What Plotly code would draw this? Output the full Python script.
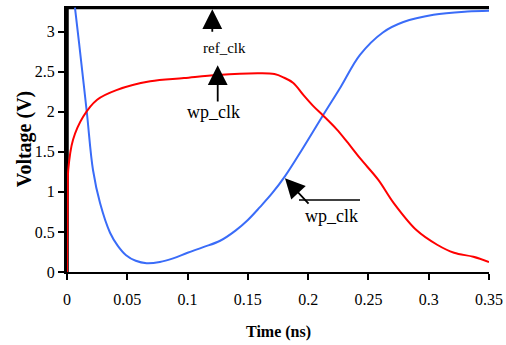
import plotly.graph_objects as go

# ---- data ----
t_blue = [0.0066, 0.010, 0.0164, 0.0216, 0.0274, 0.0357, 0.042, 0.049, 0.057, 0.066,
          0.077, 0.088, 0.100, 0.113, 0.127, 0.140, 0.150, 0.160, 0.170, 0.181,
          0.195, 0.2125, 0.227, 0.243, 0.262, 0.279, 0.304, 0.332, 0.350]
v_blue = [3.30, 2.86, 2.00, 1.27, 0.86, 0.49, 0.33, 0.21, 0.14, 0.11,
          0.125, 0.17, 0.24, 0.31, 0.39, 0.52, 0.65, 0.81, 0.98, 1.20,
          1.53, 1.96, 2.31, 2.71, 2.99, 3.12, 3.21, 3.25, 3.26]

t_red = [0.0, 0.0003, 0.0006, 0.001, 0.005, 0.0135, 0.025, 0.041, 0.069, 0.097,
         0.125, 0.160, 0.172, 0.1794, 0.1877, 0.196, 0.2043, 0.2126, 0.2237, 0.232,
         0.243, 0.2582, 0.271, 0.290, 0.307, 0.321, 0.337, 0.350]
v_red = [0.0, 0.5, 1.0, 1.27, 1.65, 1.94, 2.15, 2.27, 2.38, 2.42,
         2.46, 2.48, 2.47, 2.43, 2.36, 2.21, 2.07, 1.95, 1.78, 1.63,
         1.42, 1.15, 0.86, 0.52, 0.34, 0.24, 0.19, 0.125]

t_ref = [0.0, 0.0, 0.35]
v_ref = [0.0, 3.3, 3.3]

x_ticks = [0, 0.05, 0.1, 0.15, 0.2, 0.25, 0.3, 0.35]
x_labels = ["0", "0.05", "0.1", "0.15", "0.2", "0.25", "0.3", "0.35"]
y_ticks = [0, 0.5, 1, 1.5, 2, 2.5, 3]
y_labels = ["0", "0.5", "1", "1.5", "2", "2.5", "3"]

FONT = "Liberation Serif, Times New Roman, serif"

fig = go.Figure()
fig.add_trace(go.Scatter(x=t_ref, y=v_ref, mode="lines",
                         line=dict(color="black", width=3.5), showlegend=False))
fig.add_trace(go.Scatter(x=t_blue, y=v_blue, mode="lines", line_shape="spline",
                         line=dict(color="#3a6cf8", width=2), showlegend=False))
fig.add_trace(go.Scatter(x=t_red, y=v_red, mode="lines", line_shape="spline",
                         line=dict(color="#ff0000", width=2), showlegend=False))

arrow = dict(showarrow=True, arrowhead=2, arrowsize=2.2, arrowwidth=1.8,
             arrowcolor="black", text="", axref="x", ayref="y", xref="x", yref="y")

annotations = [
    dict(x=0.1205, y=3.28, ax=0.1205, ay=2.98, **arrow),
    dict(x=0.125, y=2.58, ax=0.125, ay=2.11, **arrow),
    dict(x=0.1808, y=1.17, ax=0.2015, ay=0.836, **arrow),
    dict(x=0.131, y=2.80, xref="x", yref="y", text="ref_clk", showarrow=False,
         xanchor="center", yanchor="middle",
         font=dict(family=FONT, size=15, color="black")),
    dict(x=0.1219, y=2.00, xref="x", yref="y", text="wp_clk", showarrow=False,
         xanchor="center", yanchor="middle",
         font=dict(family=FONT, size=18, color="black")),
    dict(x=0.219, y=0.70, xref="x", yref="y", text="wp_clk", showarrow=False,
         xanchor="center", yanchor="middle",
         font=dict(family=FONT, size=18, color="black")),
    dict(x=-0.102, y=0.499, xref="paper", yref="paper", text="<b>Voltage (V)</b>",
         xanchor="center", yanchor="middle",
         textangle=-90, showarrow=False, font=dict(family=FONT, size=20, color="black")),
    dict(x=0.502, y=-0.226, xref="paper", yref="paper", text="<b>Time (ns)</b>",
         xanchor="center", yanchor="middle",
         showarrow=False, font=dict(family=FONT, size=16, color="black")),
]

fig.add_shape(type="line", x0=0.1924, x1=0.243, y0=0.899, y1=0.899,
              xref="x", yref="y", line=dict(color="black", width=1.5))

fig.update_layout(
    width=506, height=345,
    margin=dict(l=67, r=17, t=6, b=73),
    paper_bgcolor="white", plot_bgcolor="white",
    annotations=annotations,
    font=dict(family=FONT, size=16, color="black"),
    xaxis=dict(range=[0, 0.35], tickvals=x_ticks, ticktext=x_labels, automargin=False,
               showgrid=False, zeroline=False, showline=True, linecolor="black",
               linewidth=2, ticks="outside", ticklen=6, tickwidth=1.5, tickcolor="black",
               ticklabelstandoff=6,
               tickfont=dict(family=FONT, size=16, color="black")),
    yaxis=dict(range=[0, 3.32], tickvals=y_ticks, ticktext=y_labels, automargin=False,
               showgrid=False, zeroline=False, showline=True, linecolor="black",
               linewidth=3, ticks="outside", ticklen=6, tickwidth=1.5, tickcolor="black",
               tickfont=dict(family=FONT, size=16, color="black")),
)

fig.write_html("out.html", config={"displayModeBar": False},
               post_script="document.body.style.margin='0';document.body.style.padding='0';")
